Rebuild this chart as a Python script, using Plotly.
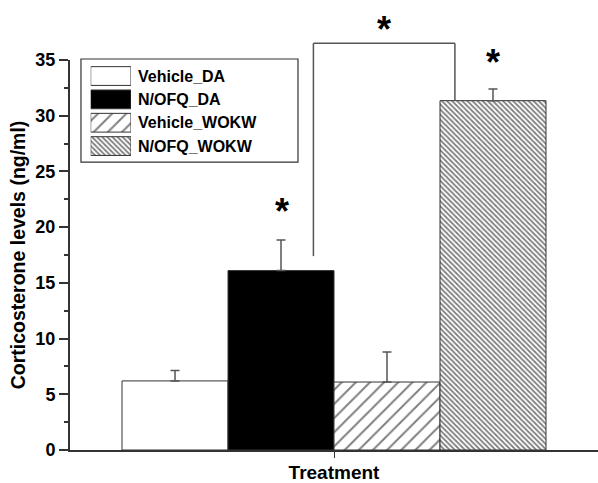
import plotly.graph_objects as go

# ---- data ----
category = ["Treatment"]
groups = ["Vehicle_DA", "N/OFQ_DA", "Vehicle_WOKW", "N/OFQ_WOKW"]
means = [6.2, 16.1, 6.1, 31.35]
sem = [0.93, 2.75, 2.7, 1.05]
y_ticks = [0, 5, 10, 15, 20, 25, 30, 35]

# significance marks: (x position in category units, y value)
stars_x = [-0.099, 0.095, 0.301]
stars_y = [22.0, 38.35, 35.4]
bracket_x = [-0.039, 0.229]
bracket_y_left = 17.4
bracket_y_top = 36.5
bracket_y_right = 31.35

Y_MAX = 35

FONT = "Liberation Sans, Arial, sans-serif"
EDGE = "#333333"

styles = [
    dict(color="white"),
    dict(color="black"),
    dict(color="white", pattern=dict(shape="/", size=10, solidity=0.2,
                                     fgcolor="black", bgcolor="white")),
    dict(color="white", pattern=dict(shape="\\", size=3.6, solidity=0.5,
                                     fgcolor="black", bgcolor="white")),
]

fig = go.Figure()
for name, m, e, st in zip(groups, means, sem, styles):
    fig.add_trace(go.Bar(
        x=category, y=[m], name=name, showlegend=False,
        marker=dict(line=dict(color=EDGE, width=1), **st),
        error_y=dict(type="data", symmetric=False, array=[e], arrayminus=[0],
                     color="#555555", thickness=1.5, width=4.5),
    ))

# ---- legend (drawn as swatch bars on an inset axis + text labels) ----
for name, st in zip(groups, styles):
    fig.add_trace(go.Bar(
        x=[1], y=[name], orientation="h", xaxis="x2", yaxis="y2",
        offsetgroup="legend", showlegend=False, hoverinfo="skip",
        marker=dict(line=dict(color=EDGE, width=1), **st),
    ))
    fig.add_annotation(x=0, y=name, xref="x2 domain", yref="y2", text=name,
                       showarrow=False, xanchor="left", xshift=45,
                       font=dict(family=FONT, size=16, weight="bold", color="black"))

fig.add_shape(type="rect", xref="paper", yref="paper",
              x0=0.0208, x1=0.4318, y0=0.738, y1=1.0026,
              line=dict(color="#333333", width=1.2), fillcolor="rgba(0,0,0,0)")

# bracket
shape_line = dict(color="#555555", width=1.5)
fig.add_shape(type="line", xref="x", yref="paper",
              x0=bracket_x[0], x1=bracket_x[0],
              y0=bracket_y_left / Y_MAX, y1=bracket_y_top / Y_MAX, line=shape_line)
fig.add_shape(type="line", xref="x", yref="paper",
              x0=bracket_x[0], x1=bracket_x[1],
              y0=bracket_y_top / Y_MAX, y1=bracket_y_top / Y_MAX, line=shape_line)
fig.add_shape(type="line", xref="x", yref="paper",
              x0=bracket_x[1], x1=bracket_x[1],
              y0=bracket_y_top / Y_MAX, y1=bracket_y_right / Y_MAX, line=shape_line)

for sx, sy in zip(stars_x, stars_y):
    fig.add_annotation(x=sx, y=sy / Y_MAX, xref="x", yref="paper", text="*",
                       showarrow=False, yanchor="middle", yshift=-7,
                       font=dict(family=FONT, size=36, color="black", weight="bold"))

fig.update_layout(
    width=598, height=483,
    margin=dict(l=70, r=0, t=60, b=33),
    plot_bgcolor="white", paper_bgcolor="white",
    barmode="group", bargap=0.197, bargroupgap=0,
    font=dict(family=FONT, color="black"),
    showlegend=False,
    xaxis=dict(
        range=[-0.5, 0.5], showline=True, linecolor=EDGE, linewidth=1.5,
        ticks="outside", ticklen=6, tickcolor=EDGE, showticklabels=False,
        title=dict(text="Treatment", font=dict(family=FONT, size=19, weight="bold"),
                   standoff=10),
        showgrid=False, zeroline=False,
    ),
    yaxis=dict(
        range=[0, Y_MAX], showline=True, linecolor=EDGE, linewidth=2,
        tickmode="array", tickvals=y_ticks, ticks="outside", ticklen=9,
        tickcolor=EDGE, tickwidth=1.5,
        minor=dict(dtick=2.5, tick0=0, ticklen=4, tickcolor=EDGE, ticks="outside"),
        tickfont=dict(family=FONT, size=18, weight="bold"),
        title=dict(text="Corticosterone levels (ng/ml)",
                   font=dict(family=FONT, size=19.5, weight="bold"), standoff=5),
        showgrid=False, zeroline=False,
    ),
    xaxis2=dict(domain=[0.0392, 0.1155], range=[0, 1], anchor="y2",
                visible=False, fixedrange=True),
    yaxis2=dict(domain=[0.7494, 0.9888], anchor="x2", type="category",
                categoryorder="array", categoryarray=groups[::-1],
                visible=False, fixedrange=True),
)

fig.write_html("out.html")
